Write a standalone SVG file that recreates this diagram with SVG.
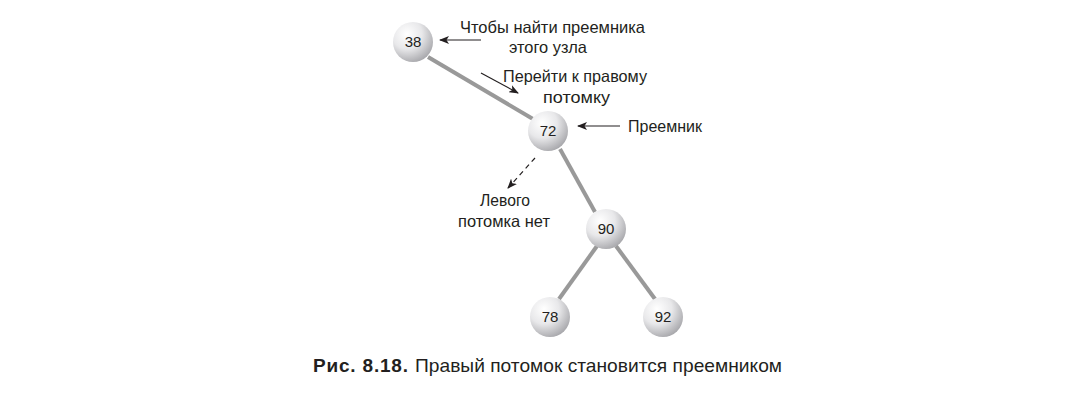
<svg xmlns="http://www.w3.org/2000/svg" width="1067" height="400" viewBox="0 0 1067 400">
<style>
.edge{stroke:#999;stroke-width:4;stroke-linecap:butt}
.ptr{stroke:#231f20;stroke-width:1.2;fill:none}
.lbl{font-family:"Liberation Sans",Arial,sans-serif;font-size:16.5px;fill:#231f20}
.num{font-family:"Liberation Sans",Arial,sans-serif;font-size:15px;fill:#231f20;text-anchor:middle}
.cap{font-family:"Liberation Sans",Arial,sans-serif;font-size:19px;fill:#231f20}
</style>
<defs>
<radialGradient id="ball" cx="0.35" cy="0.3" r="0.75">
<stop offset="0" stop-color="#ffffff"/>
<stop offset="0.5" stop-color="#e8e8ea"/>
<stop offset="1" stop-color="#a7a7ab"/>
</radialGradient>
<marker id="ah" viewBox="0 0 10 8" refX="9" refY="4" markerWidth="10" markerHeight="8" markerUnits="userSpaceOnUse" orient="auto">
<path d="M0,0 L10,4 L0,8 L2.5,4 Z" fill="#231f20"/>
</marker>
</defs>
<g id="connectors">
<line class="edge" x1="428" y1="57" x2="533" y2="119"/>
<line class="edge" x1="560" y1="149" x2="595" y2="212"/>
<line class="edge" x1="597" y1="246" x2="559" y2="299"/>
<line class="edge" x1="616" y1="246" x2="655" y2="299"/>
<line class="ptr" x1="481" y1="40" x2="440" y2="40" marker-end="url(#ah)"/>
<line class="ptr" x1="481" y1="73" x2="518" y2="93" marker-end="url(#ah)"/>
<line class="ptr" x1="620" y1="126" x2="578" y2="126" marker-end="url(#ah)"/>
<line class="ptr" x1="535" y1="158" x2="508" y2="188" stroke-dasharray="5,4" marker-end="url(#ah)"/>
</g>
<g id="n38"><circle cx="413" cy="42" r="20" fill="url(#ball)"/><text class="num" x="413" y="47">38</text></g>
<g id="n72"><circle cx="548" cy="131" r="20" fill="url(#ball)"/><text class="num" x="548" y="136">72</text></g>
<g id="n90"><circle cx="606" cy="229" r="20" fill="url(#ball)"/><text class="num" x="606" y="234">90</text></g>
<g id="n78"><circle cx="550" cy="317" r="20" fill="url(#ball)"/><text class="num" x="550" y="322">78</text></g>
<g id="n92"><circle cx="663" cy="317" r="20" fill="url(#ball)"/><text class="num" x="663" y="322">92</text></g>
<g id="labels">
<text class="lbl" x="460" y="33" textLength="185" lengthAdjust="spacingAndGlyphs">Чтобы найти преемника</text>
<text class="lbl" x="509" y="53" textLength="78" lengthAdjust="spacingAndGlyphs">этого узла</text>
<text class="lbl" x="503" y="82" textLength="144" lengthAdjust="spacingAndGlyphs">Перейти к правому</text>
<text class="lbl" x="543" y="103" textLength="67" lengthAdjust="spacingAndGlyphs">потомку</text>
<text class="lbl" x="628" y="132" textLength="74" lengthAdjust="spacingAndGlyphs">Преемник</text>
<text class="lbl" x="480" y="206" textLength="50" lengthAdjust="spacingAndGlyphs">Левого</text>
<text class="lbl" x="458" y="227" textLength="92" lengthAdjust="spacingAndGlyphs">потомка нет</text>
<text class="cap" x="313" y="372" font-weight="bold" textLength="95" lengthAdjust="spacing">Рис. 8.18.</text>
<text class="cap" x="415" y="372" textLength="367" lengthAdjust="spacingAndGlyphs">Правый потомок становится преемником</text>
</g>
</svg>
